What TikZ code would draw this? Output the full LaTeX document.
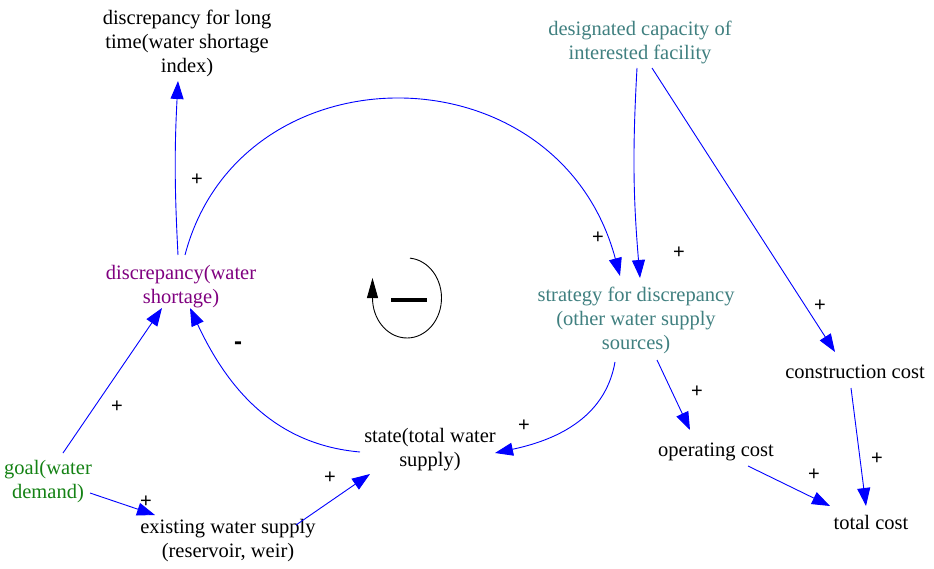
\documentclass[tikz,border=0pt]{standalone}
\usepackage{fontspec}
\setmainfont{Liberation Serif}
\newfontfamily\signfont{Liberation Sans}
\usetikzlibrary{arrows.meta}
\definecolor{linkblue}{RGB}{0,0,255}
\definecolor{discpurple}{RGB}{128,0,128}
\definecolor{teal2}{RGB}{64,128,128}
\definecolor{goalgreen}{RGB}{20,130,20}
\begin{document}
\begin{tikzpicture}[x=1pt,y=1pt,
  var/.style={align=center,inner sep=0pt,font=\fontsize{20.5}{24}\selectfont},
  link/.style={draw=linkblue,line width=0.9pt,-{Triangle[length=18pt,width=13pt]},fill=none},
  sgn/.style={font=\signfont\fontsize{20}{20}\selectfont,inner sep=0pt}]
\useasboundingbox (0,0) rectangle (934,-569);
\fill[white] (0,0) rectangle (934,-569);
% variables
\node[var] (long) at (187,-43) {discrepancy for long\\time(water shortage\\index)};
\node[var,text=teal2] (desig) at (640,-42) {designated capacity of\\interested facility};
\node[var,text=discpurple] (disc) at (181,-287) {discrepancy(water\\shortage)};
\node[var,text=teal2] (strat) at (636,-320) {strategy for discrepancy\\(other water supply\\sources)};
\node[var] (cons) at (855,-372) {construction cost};
\node[var] (state) at (430,-450) {state(total water\\supply)};
\node[var] (oper) at (716,-452) {operating cost};
\node[var,text=goalgreen] (goal) at (48,-482) {goal(water\\demand)};
\node[var] (exist) at (228,-541) {existing water supply\\(reservoir, weir)};
\node[var] (total) at (871,-522) {total cost};
% links
\draw[link] ([shift={(-3,32)}]disc.center) to[bend left=3] ([shift={(-9,-38)}]long.center);
\draw[link] ([shift={(4,32)}]disc.center) .. controls (240,-45) and (558,-45) .. ([shift={(-16,44)}]strat.center);
\draw[link] ([shift={(-3,-26)}]desig.center) to[bend right=4] ([shift={(4,42)}]strat.center);
\draw[link] ([shift={(12,-26)}]desig.center) -- ([shift={(-20,20)}]cons.center);
\draw[link] ([shift={(-21,-42)}]strat.center) to[out=-100,in=12] ([shift={(65,-3)}]state.center);
\draw[link] ([shift={(21,-40)}]strat.center) -- ([shift={(-26,22)}]oper.center);
\draw[link] ([shift={(-4,-16)}]cons.center) -- ([shift={(-5,16)}]total.center);
\draw[link] ([shift={(32,-14)}]oper.center) -- ([shift={(-41,16)}]total.center);
\draw[link] ([shift={(-70,-2)}]state.center) to[out=175,in=-65] ([shift={(9,-21)}]disc.center);
\draw[link] ([shift={(15,29)}]goal.center) -- ([shift={(-19,-21)}]disc.center);
\draw[link] ([shift={(42,-11)}]goal.center) -- ([shift={(-73,26)}]exist.center);
\draw[link] ([shift={(68,16)}]exist.center) -- ([shift={(-60,-24)}]state.center);
% polarity signs
\node[sgn] (s1) at (197,-180) {+};
\node[sgn] (s2) at (598,-238) {+};
\node[sgn] (s3) at (679,-253) {+};
\node[sgn] (s4) at (820,-306) {+};
\node[sgn] (s5) at (524,-426) {+};
\node[sgn] (s6) at (697,-392) {+};
\node[sgn] (s7) at (877,-459) {+};
\node[sgn] (s8) at (814,-475) {+};
\node[sgn] (s9) at (117,-407) {+};
\node[sgn] (s10) at (146,-502) {+};
\node[sgn] (s11) at (330,-478) {+};
\node[sgn,font=\signfont\bfseries\fontsize{24}{24}\selectfont] (s12) at (238,-346) {-};
% loop symbol
\draw[line width=0.9pt] (407,-298) ++(85:34.5 and 40) arc[start angle=85,end angle=-180,x radius=34.5,y radius=40] coordinate (loopend);
\draw[line width=0.9pt,-{Triangle[length=20pt,width=11pt]}] (loopend) -- ++(0,20);
\draw[line width=4pt] (391,-300) -- (427,-300);
\end{tikzpicture}
\end{document}
